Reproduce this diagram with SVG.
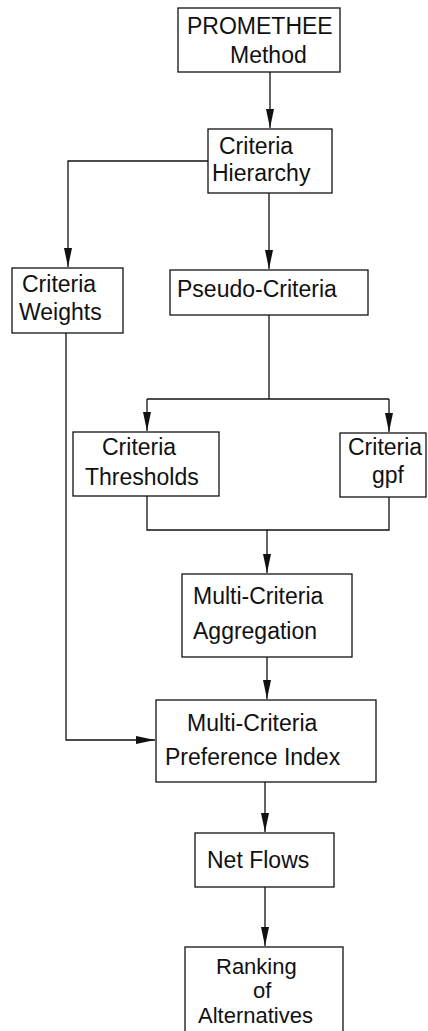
<svg xmlns="http://www.w3.org/2000/svg" width="428" height="1031" viewBox="0 0 428 1031">
  <style>
    .box { fill: #ffffff; stroke: #111111; stroke-width: 1.3; }
    .lbl { font-family: "Liberation Sans", Arial, sans-serif; font-size: 23px; fill: #111111; }
    .sm { font-size: 22px; }
    .wire { fill: none; stroke: #111111; stroke-width: 1.3; }
  </style>
  <defs>
    <!-- long narrow filled arrowhead, tip at the end of the path -->
    <marker id="arrow" markerUnits="userSpaceOnUse" markerWidth="20" markerHeight="10" viewBox="0 0 20 10" refX="19" refY="5" orient="auto">
      <path d="M0,1 L19,5 L0,9 Z" fill="#111111"/>
    </marker>
  </defs>
  <rect width="428" height="1031" fill="#ffffff"/>

  <g id="connectors">
    <path class="wire" d="M270,72 V128" marker-end="url(#arrow)"/>
    <path class="wire" d="M208,161 H68 V267" marker-end="url(#arrow)"/>
    <path class="wire" d="M269,193 V269" marker-end="url(#arrow)"/>
    <path class="wire" d="M269,315 V399"/>
    <path class="wire" d="M147,399 H389"/>
    <path class="wire" d="M147,399 V431" marker-end="url(#arrow)"/>
    <path class="wire" d="M389,399 V432" marker-end="url(#arrow)"/>
    <path class="wire" d="M147,496 V530 H389 V497"/>
    <path class="wire" d="M267,530 V573" marker-end="url(#arrow)"/>
    <path class="wire" d="M267,657 V699" marker-end="url(#arrow)"/>
    <path class="wire" d="M66,333 V740 H155" marker-end="url(#arrow)"/>
    <path class="wire" d="M265,782 V832" marker-end="url(#arrow)"/>
    <path class="wire" d="M265,887 V946" marker-end="url(#arrow)"/>
  </g>

  <g id="promethee">
    <rect class="box" x="178" y="8" width="162" height="64"/>
    <text class="lbl" x="187" y="34">PROMETHEE</text>
    <text class="lbl" x="230" y="63">Method</text>
  </g>
  <g id="hierarchy">
    <rect class="box" x="208" y="129" width="124" height="64"/>
    <text class="lbl" x="219" y="154">Criteria</text>
    <text class="lbl" x="212" y="181">Hierarchy</text>
  </g>
  <g id="weights">
    <rect class="box" x="12" y="268" width="111" height="65"/>
    <text class="lbl" x="22" y="292">Criteria</text>
    <text class="lbl" x="19" y="320">Weights</text>
  </g>
  <g id="pseudo">
    <rect class="box" x="170" y="270" width="198" height="45"/>
    <text class="lbl" x="177" y="297">Pseudo-Criteria</text>
  </g>
  <g id="thresholds">
    <rect class="box" x="73" y="432" width="146" height="64"/>
    <text class="lbl" x="102" y="455">Criteria</text>
    <text class="lbl" x="85" y="485">Thresholds</text>
  </g>
  <g id="gpf">
    <rect class="box" x="340" y="433" width="86" height="64"/>
    <text class="lbl" x="348" y="455">Criteria</text>
    <text class="lbl" x="372" y="483">gpf</text>
  </g>
  <g id="aggregation">
    <rect class="box" x="182" y="574" width="170" height="83"/>
    <text class="lbl" x="193" y="604">Multi-Criteria</text>
    <text class="lbl" x="193" y="639">Aggregation</text>
  </g>
  <g id="preference">
    <rect class="box" x="156" y="700" width="220" height="82"/>
    <text class="lbl" x="187" y="731">Multi-Criteria</text>
    <text class="lbl" x="165" y="765">Preference Index</text>
  </g>
  <g id="netflows">
    <rect class="box" x="195" y="833" width="139" height="54"/>
    <text class="lbl" x="207" y="868">Net Flows</text>
  </g>
  <g id="ranking">
    <rect class="box" x="185" y="947" width="158" height="90"/>
    <text class="lbl sm" x="216" y="974">Ranking</text>
    <text class="lbl sm" x="253" y="998">of</text>
    <text class="lbl sm" x="198" y="1023">Alternatives</text>
  </g>
</svg>
